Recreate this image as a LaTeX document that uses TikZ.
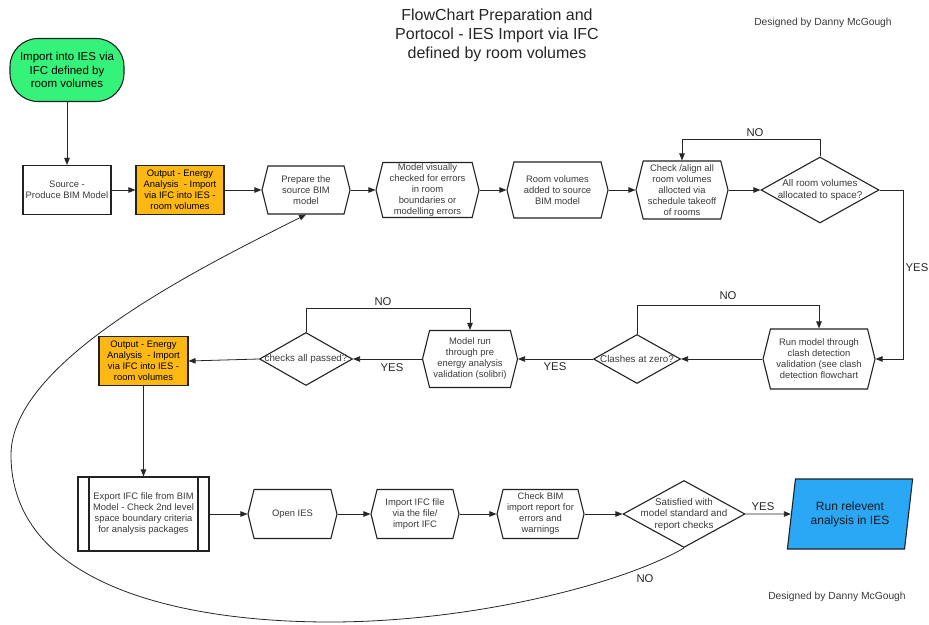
\documentclass[tikz,border=0pt]{standalone}
\usepackage{fontspec}
\setmainfont{Liberation Sans}
\usetikzlibrary{arrows.meta,shapes.geometric,shapes.symbols}

\definecolor{startgreen}{HTML}{35F27B}
\definecolor{outorange}{HTML}{FDB813}
\definecolor{runblue}{HTML}{2AA7F5}
\definecolor{txt}{HTML}{3A3A3A}
\definecolor{edge}{HTML}{222222}

\tikzset{
  box/.style={draw=edge, line width=1.1pt, align=center, inner sep=0pt,
    font=\fontsize{9.4}{11}\selectfont, text=txt},
  hexa/.style={box, signal, signal to=west and east, signal pointer angle=152},
  outbox/.style={box, fill=outorange, text=black},
  predef/.style={box, path picture={
      \draw[line width=1.1pt]
        ([xshift=11pt]path picture bounding box.north west) --
        ([xshift=11pt]path picture bounding box.south west)
        ([xshift=-11pt]path picture bounding box.north east) --
        ([xshift=-11pt]path picture bounding box.south east);}},
  decision/.style={draw=edge, diamond, line width=1.1pt, inner sep=0pt},
  dtext/.style={font=\fontsize{9.8}{11.5}\selectfont, align=center, text=txt},
  flow/.style={draw=black!85, line width=0.8pt, -{Triangle[length=7pt,width=5.5pt]}},
  lbl/.style={font=\fontsize{11.3}{13}\selectfont, text=black!85},
  credit/.style={font=\fontsize{10.3}{12}\selectfont, text=txt},
}

\begin{document}
\begin{tikzpicture}[x=1pt,y=-1pt]
\useasboundingbox (0,0) rectangle (929,624);

% heading and credits
\node (title) [font=\fontsize{16}{19}\selectfont, align=center, text=black!85] at (497,35)
  {FlowChart Preparation and\\Portocol - IES Import via IFC\\ defined by room volumes};
\node (credtop) [credit] at (823,23) {Designed by Danny McGough};
\node (credbot) [credit] at (837,597) {Designed by Danny McGough};

% first row
\node (start) [draw=edge, line width=1.1pt, fill=startgreen, rounded corners=28pt,
  minimum width=114pt, minimum height=63pt, inner sep=0pt, align=center,
  font=\fontsize{11.5}{13.5}\selectfont] at (67,70)
  {Import into IES via\\IFC defined by\\room volumes};
\node (source) [box, minimum width=88pt, minimum height=49pt] at (67,190)
  {Source -\\Produce BIM Model};
\node (out1) [outbox, minimum width=88pt, minimum height=49pt] at (180,190)
  {Output - Energy\\Analysis \ - Import\\via IFC into IES -\\room volumes};
\node (prep) [hexa, minimum width=88pt, minimum height=48pt] at (306,190)
  {Prepare the\\source BIM\\model};
\node (visual) [hexa, minimum width=103pt, minimum height=55pt] at (427.5,190)
  {Model visually\\checked for errors\\in room\\boundaries or\\modelling errors};
\node (roomvol) [hexa, minimum width=101pt, minimum height=56pt] at (557.5,190)
  {Room volumes\\added to source\\BIM model};
\node (align) [hexa, minimum width=92pt, minimum height=58pt] at (682,190)
  {Check /align all\\room volumes\\allocted via\\schedule takeoff\\of rooms};
\node (allocd) [decision, minimum width=118pt, minimum height=66pt,
  label={[dtext]center:All room volumes\\allocated to space?}] at (820,190) {};

% second row
\node (clashrun) [hexa, minimum width=112pt, minimum height=60pt] at (819,359)
  {Run model through\\clash detection\\validation (see clash\\detection flowchart};
\node (clash) [decision, minimum width=87pt, minimum height=49pt,
  label={[dtext]center:Clashes at zero?}] at (637,359) {};
\node (prerun) [hexa, minimum width=95pt, minimum height=57pt] at (470,359)
  {Model run\\through pre\\energy analysis\\validation (solibri)};
\node (checks) [decision, minimum width=93pt, minimum height=53pt,
  label={[dtext]center:checks all passed?}] at (306,359) {};
\node (out2) [outbox, minimum width=89pt, minimum height=49pt] at (143.5,361)
  {Output - Energy\\Analysis \ - Import\\via IFC into IES -\\room volumes};

% third row
\node (export) [predef, minimum width=131pt, minimum height=74pt] at (143.5,514)
  {Export IFC file from BIM\\Model - Check 2nd level\\space boundary criteria\\ for analysis packages};
\node (openies) [hexa, minimum width=89pt, minimum height=49pt] at (292.5,514) {Open IES};
\node (import) [hexa, minimum width=88pt, minimum height=49pt] at (415,514)
  {Import IFC file\\via the file/\\import IFC};
\node (report) [hexa, minimum width=87pt, minimum height=49pt] at (540.5,514)
  {Check BIM\\import report for\\errors and\\warnings};
\node (satisfied) [decision, minimum width=122pt, minimum height=67pt,
  label={[dtext]center:Satisfied with\\model standard and\\report checks}] at (684,514) {};
\node (analysis) [trapezium, trapezium left angle=77, trapezium right angle=103,
  trapezium stretches=true, draw=edge, line width=1.1pt, fill=runblue,
  minimum width=126pt, minimum height=70pt, inner sep=0pt, align=center,
  font=\fontsize{12}{14}\selectfont, text=black!90] at (850,514)
  {Run relevent\\analysis in IES};

% connectors, first row
\draw[flow] (start) -- (source);
\draw[flow] (source) -- (out1);
\draw[flow] (out1) -- (prep.west);
\draw[flow] (prep.east) -- (visual.west);
\draw[flow] (visual.east) -- (roomvol.west);
\draw[flow] (roomvol.east) -- (align.west);
\draw[flow] (align.east) -- (allocd.west);
\draw[flow] (allocd.north) -- ++(0,-17) -| (align.north);
\draw[flow] (allocd.east) -- ++(24,0) |- (clashrun.east);

% connectors, second row
\draw[flow] (clashrun.west) -- (clash.east);
\draw[flow] (clash.north) -- ++(0,-29) -| (clashrun.north);
\draw[flow] (clash.west) -- (prerun.east);
\draw[flow] (prerun.west) -- (checks.east);
\draw[flow] (checks.north) -- ++(0,-24) -| (prerun.north);
\draw[flow] (checks.west) -- (out2.east);
\draw[flow] (out2.south) -- (export.north);

% connectors, third row
\draw[flow] (export.east) -- (openies.west);
\draw[flow] (openies.east) -- (import.west);
\draw[flow] (import.east) -- (report.west);
\draw[flow] (report.east) -- (satisfied.west);
\draw[flow] (satisfied.east) -- (analysis.west);

% loop back to the preparation step
\draw[flow] (satisfied.south) .. controls (620,585) and (470,622) .. (330,622)
  .. controls (170,622) and (11,580) .. (11,455)
  .. controls (11,360) and (204,266) .. (prep.south);

% branch labels
\node (no1) [lbl] at (755,133) {NO};
\node (yes1) [lbl] at (917,268) {YES};
\node (no2) [lbl] at (728,296) {NO};
\node (yes2) [lbl] at (555,367) {YES};
\node (no3) [lbl] at (383,302) {NO};
\node (yes3) [lbl] at (392,368) {YES};
\node (yes4) [lbl] at (763,507) {YES};
\node (no4) [lbl] at (645,579) {NO};
\end{tikzpicture}
\end{document}
